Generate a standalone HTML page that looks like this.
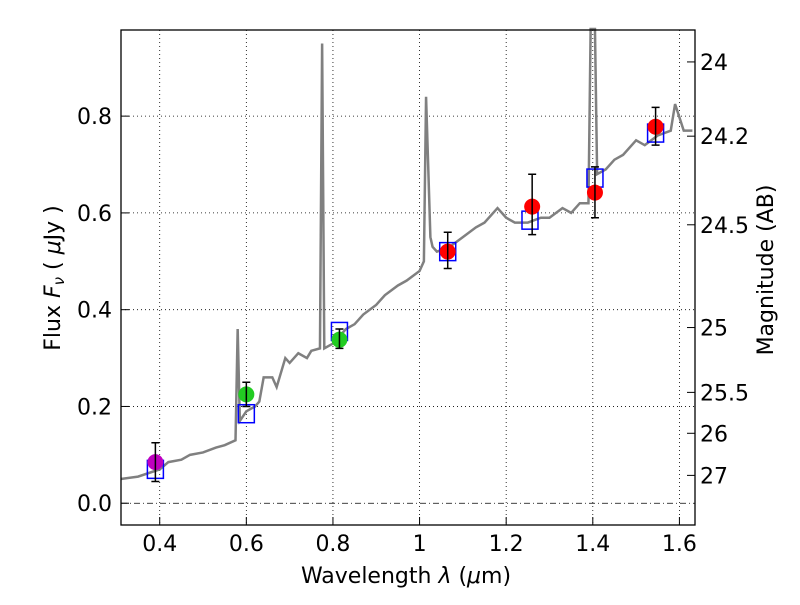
<!DOCTYPE html>
<html><head><meta charset="utf-8"><style>
body{margin:0;background:#fff;}
svg text{font-family:"DejaVu Sans","Liberation Sans",sans-serif;fill:#000;}
</style></head><body>
<svg id="chart" width="800" height="600">
<rect x="0" y="0" width="800" height="600" fill="#fff"/>
<g id="grid"></g>
<g id="spec"></g>
<g id="marks"></g>
<rect x="121" y="30" width="574" height="495" fill="none" stroke="#000" stroke-width="1.3"/>
<g id="axes"></g>
<text x="406" y="583" font-size="22" text-anchor="middle">Wavelength  <tspan font-style="italic">λ</tspan> (<tspan font-style="italic">μ</tspan>m)</text>
<text transform="translate(60,278) rotate(-90)" font-size="22" text-anchor="middle">Flux  <tspan font-style="italic">F<tspan font-size="15" dy="4">ν</tspan></tspan><tspan dy="-4">  ( </tspan><tspan font-style="italic">μ</tspan>Jy )</text>
<text transform="translate(773,270) rotate(-90)" font-size="22" text-anchor="middle">Magnitude (AB)</text>
</svg>
<script>
const xTicks=[0.4,0.6,0.8,1.0,1.2,1.4,1.6];
const xTickLabels=["0.4","0.6","0.8","1","1.2","1.4","1.6"];
const yTicks=[0,0.2,0.4,0.6,0.8];
const yTickLabels=["0.0","0.2","0.4","0.6","0.8"];
const magTicks=[24,24.2,24.5,25,25.5,26,27];
const magTickLabels=["24","24.2","24.5","25","25.5","26","27"];
const specX=[0.31,0.35,0.40,0.42,0.45,0.47,0.50,0.53,0.55,0.575,0.58,0.585,0.60,0.62,0.63,0.64,0.66,0.67,0.69,0.70,0.72,0.74,0.75,0.77,0.775,0.78,0.80,0.83,0.85,0.87,0.90,0.92,0.95,0.97,1.00,1.01,1.015,1.025,1.03,1.04,1.07,1.10,1.13,1.15,1.18,1.20,1.22,1.25,1.28,1.30,1.33,1.35,1.37,1.39,1.395,1.405,1.41,1.43,1.45,1.47,1.50,1.52,1.55,1.58,1.59,1.61,1.63];
const specY=[0.05,0.055,0.07,0.085,0.09,0.1,0.105,0.115,0.12,0.13,0.36,0.17,0.19,0.2,0.21,0.26,0.26,0.24,0.3,0.29,0.31,0.3,0.315,0.32,0.95,0.32,0.33,0.36,0.37,0.39,0.41,0.43,0.45,0.46,0.48,0.50,0.84,0.55,0.53,0.52,0.53,0.55,0.57,0.58,0.61,0.59,0.58,0.58,0.59,0.59,0.61,0.60,0.62,0.62,0.98,0.98,0.68,0.69,0.71,0.72,0.75,0.74,0.76,0.77,0.825,0.77,0.77];
const obsX=[0.39,0.60,0.815,1.065,1.26,1.405,1.545];
const obsY=[0.085,0.225,0.338,0.52,0.613,0.642,0.778];
const obsLo=[0.045,0.20,0.32,0.485,0.555,0.59,0.74];
const obsHi=[0.125,0.25,0.36,0.56,0.68,0.695,0.818];
const obsColor=["#bf00bf","#22cc22","#22cc22","red","red","red","red"];
const modelX=[0.39,0.60,0.815,1.065,1.255,1.405,1.545];
const modelY=[0.07,0.185,0.355,0.52,0.585,0.672,0.765];
const X=v=>121+(v-0.3106)/(1.636-0.3106)*574;
const Y=v=>525-(v+0.045)/(0.978+0.045)*495;
const NS="http://www.w3.org/2000/svg";
function mk(p,t,a){const e=document.createElementNS(NS,t);for(const k in a)e.setAttribute(k,a[k]);document.getElementById(p).appendChild(e);return e;}
xTicks.forEach((v,i)=>{
 const g=mk('grid','line',{x1:X(v),x2:X(v),y1:30,y2:525,stroke:'#000','stroke-dasharray':'1,3','stroke-width':0.8});
 
 
 mk('axes','line',{x1:X(v),x2:X(v),y1:525,y2:517,stroke:'#000'});
 const t=mk('axes','text',{x:X(v),y:551,'font-size':22,'text-anchor':'middle'});t.textContent=xTickLabels[i];
 
 
});
yTicks.forEach((v,i)=>{
 const g=mk('grid','line',{x1:121,x2:695,y1:Y(v),y2:Y(v),stroke:'#000','stroke-dasharray':v===0?'6,3,1,3':'1,3','stroke-width':0.8});
 
 
 mk('axes','line',{x1:121,x2:129,y1:Y(v),y2:Y(v),stroke:'#000'});
 const t=mk('axes','text',{x:112,y:Y(v)+8,'font-size':22,'text-anchor':'end'});t.textContent=yTickLabels[i];
 
 
});
magTicks.forEach((m,i)=>{
 const f=Math.pow(10,-0.4*(m-23.9));
 mk('axes','line',{x1:687,x2:695,y1:Y(f),y2:Y(f),stroke:'#000'});
 const t=mk('axes','text',{x:700,y:Y(f)+8,'font-size':22});t.textContent=magTickLabels[i];
 
 
});
const sp=mk('spec','polyline',{points:specX.map((x,i)=>X(x)+','+Y(Math.min(specY[i],0.985))).join(' '),fill:'none',stroke:'#808080','stroke-width':2.5});


modelX.forEach((x,i)=>{
 const r=mk('marks','rect',{x:X(x)-8,y:Y(modelY[i])-9,width:16,height:18,fill:'none',stroke:'blue','stroke-width':1.5});
 
 
});
obsX.forEach((x,i)=>{
 const c=mk('marks','circle',{cx:X(x),cy:Y(obsY[i]),r:8,fill:obsColor[i]});
 
 
 const l=mk('marks','path',{d:`M${X(x)},${Y(obsLo[i])}V${Y(obsHi[i])}M${X(x)-4},${Y(obsLo[i])}h8M${X(x)-4},${Y(obsHi[i])}h8`,stroke:'#000','stroke-width':1.5,fill:'none'});
 
 
});
</script>
</body></html>
